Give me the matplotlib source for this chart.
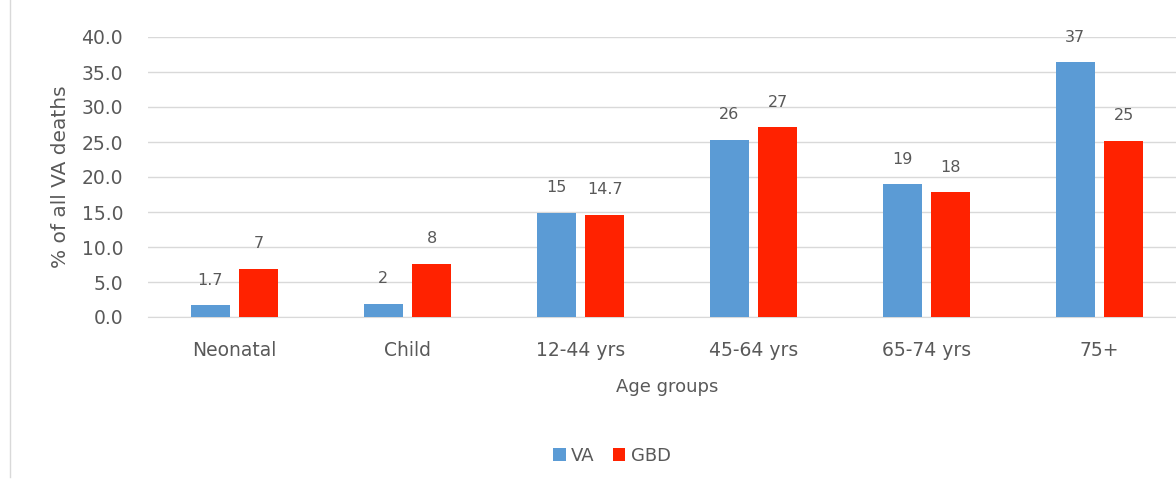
import numpy as np
import matplotlib.pyplot as plt
from matplotlib.lines import Line2D

categories = ['Neonatal', 'Child', '12-44 yrs', '45-64 yrs', '65-74 yrs', '75+']
va_values = [1.7, 1.9, 14.9, 25.3, 19.0, 36.4]
gbd_values = [6.9, 7.6, 14.6, 27.1, 17.8, 25.2]
va_labels = ['1.7', '2', '15', '26', '19', '37']
gbd_labels = ['7', '8', '14.7', '27', '18', '25']
y_ticks = [0, 5, 10, 15, 20, 25, 30, 35, 40]

plt.rcParams['font.family'] = ['DejaVu Sans']
text_col = '#595959'
blue = '#5b9bd5'
red = '#ff2200'

fig = plt.figure(figsize=(11.76, 4.79), dpi=100)
# plot area is cut off at the right edge of the original picture
ax = fig.add_axes([148 / 1176, 1 - 317 / 479, 1038 / 1176, 280 / 479])

x = np.arange(len(categories))
w = 0.225
off = 0.14
ax.bar(x - off, va_values, w, color=blue, label='VA', zorder=3)
ax.bar(x + off, gbd_values, w, color=red, label='GBD', zorder=3)

for i in range(len(categories)):
    ax.text(x[i] - off, va_values[i] + 2.5, va_labels[i], ha='center', va='bottom',
            fontsize=11.5, color=text_col)
    ax.text(x[i] + off, gbd_values[i] + 2.5, gbd_labels[i], ha='center', va='bottom',
            fontsize=11.5, color=text_col)

ax.set_xlim(-0.5, len(categories) - 0.5)
ax.set_ylim(0, 40)
ax.set_yticks(y_ticks)
ax.set_yticklabels(['%.1f' % t for t in y_ticks])
ax.set_xticks(x)
ax.set_xticklabels(categories)
ax.tick_params(axis='both', length=0, labelsize=13.5, colors=text_col)
ax.tick_params(axis='y', pad=18)
ax.tick_params(axis='x', pad=17)
ax.yaxis.grid(True, color='#d9d9d9', linewidth=1, zorder=0)
for s in ['top', 'right', 'left']:
    ax.spines[s].set_visible(False)
ax.spines['bottom'].set_color('#d9d9d9')

ax.set_xlabel('Age groups', fontsize=13, color=text_col, labelpad=13)
ax.set_ylabel('% of all VA deaths', fontsize=14.5, color=text_col, labelpad=8)

# chart area border on the left
fig.add_artist(Line2D([10 / 1176, 10 / 1176], [0.005, 1], color='#d9d9d9', linewidth=1))

handles, labels = ax.get_legend_handles_labels()
fig.legend(handles, labels, loc='center', bbox_to_anchor=(612 / 1176, 1 - 456 / 479),
           ncol=2, frameon=False, fontsize=13, handlelength=0.7, handleheight=0.7,
           handletextpad=0.3, columnspacing=1.0, labelcolor=text_col)

plt.savefig('out.png', dpi=100)
